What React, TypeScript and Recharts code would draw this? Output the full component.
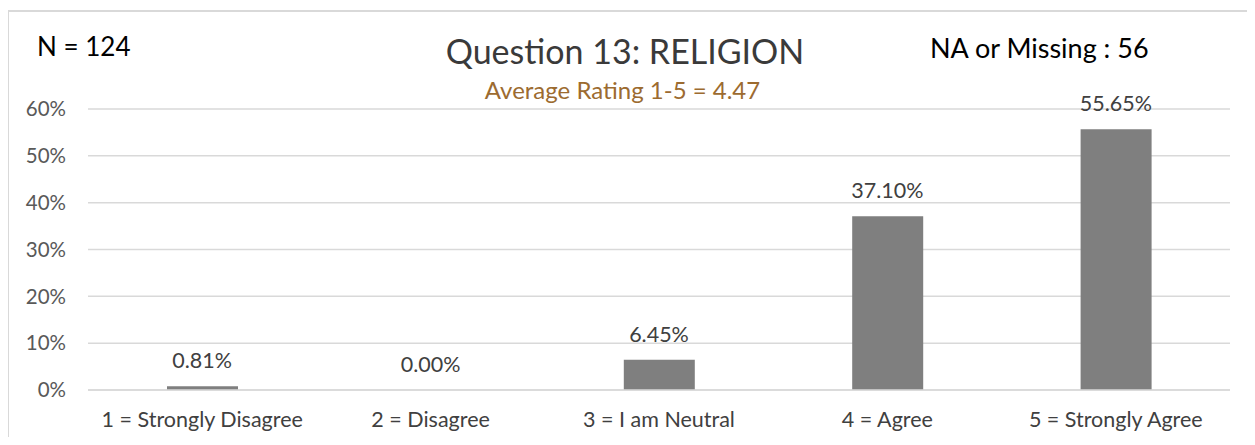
import React from 'react';
import { ComposedChart, Bar, Line, XAxis, YAxis, CartesianGrid, LabelList } from 'recharts';

const categories = ['1 = Strongly Disagree', '2 = Disagree', '3 = I am Neutral', '4 = Agree', '5 = Strongly Agree'];
const percentages = [0.81, 0.0, 6.45, 37.1, 55.65];
const yTicks = [0, 10, 20, 30, 40, 50, 60];

const title = 'Question 13: RELIGION';
const subtitle = 'Average Rating 1-5 = 4.47';
const nText = 'N = 124';
const naText = 'NA or Missing : 56';

const data = categories.map((c, i) => ({ name: c, value: percentages[i] }));

const FONT = 'Lato, "Open Sans", sans-serif';

export default function App() {
  return (
    <div style={{ position: 'relative', width: 1255, height: 445, margin: -8, overflow: 'hidden', background: '#fff', fontFamily: FONT }}>
      <div style={{ position: 'absolute', left: 7, top: 10, width: 1400, height: 600, border: '2px solid #d9d9d9', boxSizing: 'border-box' }} />
      <ComposedChart
        width={1255}
        height={445}
        data={data}
        margin={{ top: 109, right: 25, bottom: 0, left: 0 }}
        style={{ position: 'absolute', left: 0, top: 0 }}
      >
        <CartesianGrid vertical={false} stroke="#d9d9d9" strokeWidth={1.5} />
        <XAxis
          dataKey="name"
          height={55}
          axisLine={{ stroke: '#d9d9d9', strokeWidth: 1.5 }}
          tickLine={false}
          tickSize={0}
          tickMargin={22}
          tick={{ fill: '#404040', fontSize: 21.5, fontFamily: FONT }}
          interval={0}
        />
        <YAxis
          width={88}
          domain={[0, 60]}
          ticks={yTicks}
          axisLine={false}
          tickLine={false}
          tickSize={0}
          tickMargin={22}
          tickFormatter={(v: number) => `${v}%`}
          tick={{ fill: '#595959', fontSize: 20.5, fontFamily: FONT }}
        />
        <Bar dataKey="value" fill="#7f7f7f" barSize={71} isAnimationActive={false} />
        <Line dataKey="value" stroke="none" dot={false} activeDot={false} isAnimationActive={false}>
          <LabelList
            dataKey="value"
            position="top"
            offset={18}
            formatter={(v: number) => `${Number(v).toFixed(2)}%`}
            style={{ fill: '#404040', fontSize: 21.5, fontFamily: FONT }}
          />
        </Line>
      </ComposedChart>
      <div style={{ position: 'absolute', left: 37, top: 31, fontSize: 26, lineHeight: '31.2px', color: '#000', whiteSpace: 'nowrap' }}>{nText}</div>
      <div style={{ position: 'absolute', left: 0, width: 1250, top: 31.4, textAlign: 'center', fontSize: 34, lineHeight: '40.8px', color: '#3a3a3a', whiteSpace: 'nowrap' }}>{title}</div>
      <div style={{ position: 'absolute', left: 0, width: 1245, top: 76.3, textAlign: 'center', fontSize: 24, lineHeight: '28.8px', color: '#9c6b30', whiteSpace: 'nowrap' }}>{subtitle}</div>
      <div style={{ position: 'absolute', left: 930, top: 31.5, fontSize: 27, lineHeight: '32.4px', color: '#000', whiteSpace: 'nowrap' }}>{naText}</div>
    </div>
  );
}
